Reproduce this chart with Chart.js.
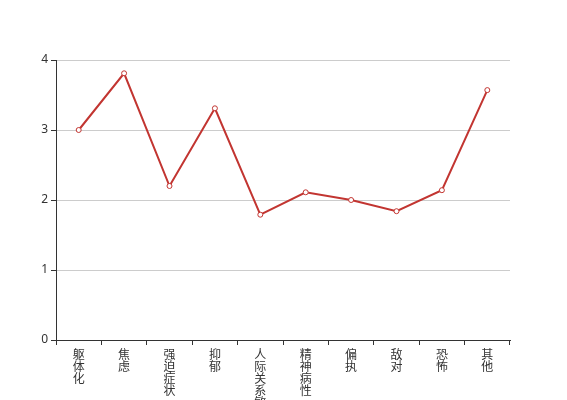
<!DOCTYPE html>
<html>
<head>
<meta charset="utf-8">
<script src="https://cdn.jsdelivr.net/npm/chart.js@4/dist/chart.umd.min.js"></script>
<style>
  body { margin: 0; background: #fff; }
  #wrap { width: 567px; height: 400px; }
</style>
</head>
<body>
<div id="wrap"><canvas id="scoreChart"></canvas></div>
<script>
const categories = ['躯体化', '焦虑', '强迫症状', '抑郁', '人际关系敏感', '精神病性', '偏执', '敌对', '恐怖', '其他'];
const scores = [3.0, 3.81, 2.2, 3.31, 1.79, 2.11, 2.0, 1.84, 2.14, 3.57];
const yTicks = [0, 1, 2, 3, 4];

// vertical text: one character per line
const labels = categories.map(c => c.split(''));

const ctx = document.getElementById('scoreChart').getContext('2d');
new Chart(ctx, {
    type: 'line',
    data: {
        labels: labels,
        datasets: [{
            data: scores,
            borderColor: '#c23531',
            borderWidth: 2,
            tension: 0,
            pointRadius: 2.5,
            pointBorderWidth: 1,
            pointBackgroundColor: '#fff',
            pointBorderColor: '#c23531'
        }]
    },
    options: {
        responsive: true,
        maintainAspectRatio: false,
        animation: false,
        layout: { padding: { left: 0, top: 60, right: 57, bottom: 0 } },
        plugins: { legend: { display: false }, tooltip: { enabled: false } },
        scales: {
            x: {
                offset: true,
                grid: {
                    offset: true,
                    drawOnChartArea: false,
                    drawTicks: true,
                    tickLength: 5,
                    color: '#333'
                },
                border: { color: '#333', width: 1 },
                ticks: {
                    autoSkip: false,
                    maxRotation: 0,
                    padding: 3,
                    color: '#333',
                    font: { size: 12, family: '"Noto Sans CJK SC", sans-serif', lineHeight: 1.0 }
                },
                afterFit: scale => { scale.height = 60; }
            },
            y: {
                min: yTicks[0],
                max: yTicks[yTicks.length - 1],
                afterBuildTicks: scale => { scale.ticks = yTicks.map(v => ({ value: v })); },
                grid: {
                    color: '#ccc',
                    tickColor: '#333',
                    tickLength: 5
                },
                border: { color: '#333', width: 1 },
                ticks: {
                    padding: 3,
                    color: '#333',
                    font: { size: 12, family: '"Noto Sans", sans-serif' }
                },
                afterFit: scale => { scale.width = 56; }
            }
        }
    }
});
</script>
</body>
</html>
